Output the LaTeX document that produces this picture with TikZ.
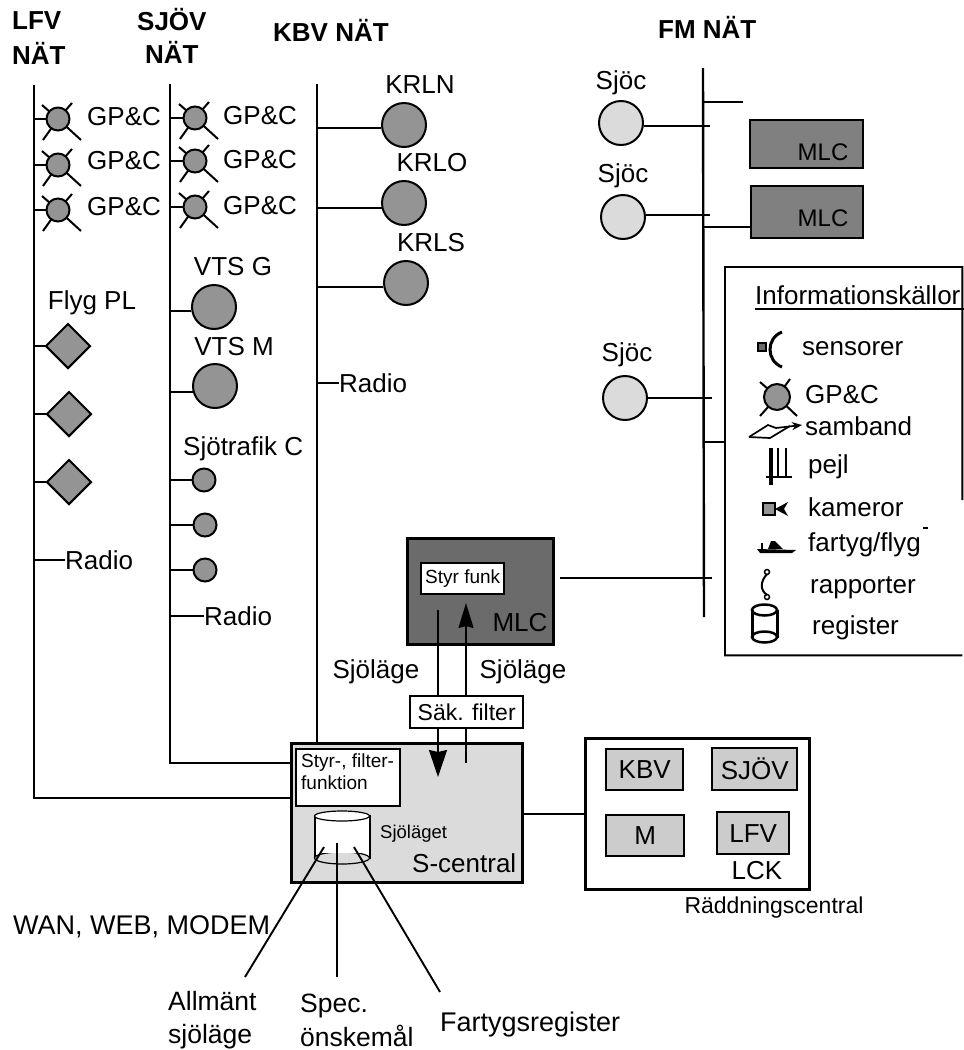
\documentclass[tikz,border=0pt]{standalone}
\usepackage{fontspec}
\setmainfont{Liberation Sans}
\usetikzlibrary{arrows.meta,calc,shapes.geometric}
\definecolor{mDot}{gray}{0.58}
\definecolor{mPale}{gray}{0.86}
\definecolor{mDark}{gray}{0.5}
\definecolor{mDarker}{gray}{0.42}
\definecolor{mSoft}{gray}{0.8}
\newcommand{\sz}[1]{\fontsize{#1}{#1}\selectfont}
\tikzset{
  wire/.style={line width=1.9pt},
  bus/.style={line width=2.4pt},
  lbl/.style={font=\sz{26},inner sep=0pt,anchor=west},
  clbl/.style={font=\sz{26},inner sep=0pt},
  head/.style={font=\sz{26}\bfseries,inner sep=0pt,anchor=west},
  gpdot/.style={circle,draw,line width=2pt,fill=mDot,minimum size=23pt,inner sep=0pt},
  bigdot/.style={circle,draw,line width=2pt,fill=mDot,minimum size=44pt,inner sep=0pt},
  smalldot/.style={circle,draw,line width=2pt,fill=mDot,minimum size=23pt,inner sep=0pt},
  paledot/.style={circle,draw,line width=2pt,fill=mPale,minimum size=44pt,inner sep=0pt},
  flyg/.style={diamond,draw,line width=2pt,fill=mDot,minimum size=45pt,inner sep=0pt},
  mlcbox/.style={draw,line width=2.4pt,fill=mDark,inner sep=0pt},
  whitebox/.style={draw,line width=2.4pt,fill=white,inner sep=0pt},
  softbox/.style={draw,line width=2.4pt,fill=mSoft,inner sep=0pt,font=\sz{26}},
  rayline/.style={line width=2pt},
}
% gp mark: name, position
\newcommand{\gpmark}[2]{
  \foreach \dx/\dy in {-16/-14,14/-16,-15/21,23/21}
    \draw[rayline] #2 -- ++(\dx,\dy);
  \node[gpdot] (#1) at #2 {};
}
\begin{document}
\begin{tikzpicture}[x=1pt,y=-1pt]
  \useasboundingbox (0,0) rectangle (964,1050);
  % Headers
  \node[head] (hlfv) at (12,21) {LFV};
  \node[head] (hlfvn) at (12,53) {NÄT};
  \node[head] (hsjov) at (137,20) {SJÖV};
  \node[head] (hsjovn) at (145,52) {NÄT};
  \node[head] (hkbv) at (273,30) {KBV NÄT};
  \node[head] (hfm) at (658,27) {FM NÄT};
  % Bus ends
  \coordinate (lfvtop) at (34,85);
  \coordinate (lfvbot) at (34,798);
  \coordinate (sjotop) at (170,84);
  \coordinate (sjobot) at (170,763);
  \coordinate (kbvtop) at (317,84);
  \coordinate (fmtop) at (703,68);
  \coordinate (fmbot) at (704,617);
  % Central boxes
  \node[draw,line width=3pt,fill=mSoft!70,minimum width=231pt,minimum height=139pt,inner sep=0pt,anchor=north west] (scentral) at (290,742) {};
  \node[draw,line width=3pt,fill=white,minimum width=224pt,minimum height=151pt,inner sep=0pt,anchor=north west] (lck) at (584,737) {};
  \node[draw,line width=3pt,fill=mDarker,minimum width=146pt,minimum height=106pt,inner sep=0pt,anchor=north west] (mlcbig) at (406,537) {};
  % LFV net
  \draw[bus] (lfvtop) -- (lfvbot) -- (lfvbot -| scentral.west);
  \gpmark{lfvgA}{(58,119)}
  \gpmark{lfvgB}{(58,165)}
  \gpmark{lfvgC}{(58,210)}
  \draw[wire] (lfvtop |- lfvgA) -- (lfvgA);
  \draw[wire] (lfvtop |- lfvgB) -- (lfvgB);
  \draw[wire] (lfvtop |- lfvgC) -- (lfvgC);
  \node[lbl] (lfvtA) at (87,117) {GP\&C};
  \node[lbl] (lfvtB) at (87,161) {GP\&C};
  \node[lbl] (lfvtC) at (87,207) {GP\&C};
  \node[clbl] (flygpl) at (92,303) {Flyg PL};
  \node[flyg] (flygA) at (68,346) {};
  \node[flyg] (flygB) at (69,414) {};
  \node[flyg] (flygC) at (69,482) {};
  \draw[wire] (lfvtop |- flygA) -- (flygA.west);
  \draw[wire] (lfvtop |- flygB) -- (flygB.west);
  \draw[wire] (lfvtop |- flygC) -- (flygC.west);
  \node[lbl] (radioL) at (65,560) {Radio};
  \draw[wire] (lfvtop |- radioL) -- (radioL.west);
  % SJOV net
  \draw[bus] (sjotop) -- (sjobot) -- (sjobot -| scentral.west);
  \gpmark{sjogA}{(195,118)}
  \gpmark{sjogB}{(195,161)}
  \gpmark{sjogC}{(195,207)}
  \draw[wire] (sjotop |- sjogA) -- (sjogA);
  \draw[wire] (sjotop |- sjogB) -- (sjogB);
  \draw[wire] (sjotop |- sjogC) -- (sjogC);
  \node[lbl] (sjotA) at (223,116) {GP\&C};
  \node[lbl] (sjotB) at (223,160) {GP\&C};
  \node[lbl] (sjotC) at (223,206) {GP\&C};
  \node[clbl] (vtsgt) at (233,267) {VTS G};
  \node[bigdot] (vtsg) at (214,307) {};
  \node[clbl] (vtsmt) at (234,347) {VTS M};
  \node[bigdot] (vtsm) at (215,386) {};
  \draw[wire] (sjotop |- vtsg.190) -- (vtsg.190);
  \draw[wire] (sjotop |- vtsm.195) -- (vtsm.195);
  \node[lbl] (sjotrafik) at (183,449) {Sjötrafik C};
  \node[smalldot] (trA) at (204,480) {};
  \node[smalldot] (trB) at (205,525) {};
  \node[smalldot] (trC) at (205,570) {};
  \draw[wire] (sjotop |- trA) -- (trA.west);
  \draw[wire] (sjotop |- trB) -- (trB.west);
  \draw[wire] (sjotop |- trC) -- (trC.west);
  \node[lbl] (radioS) at (204,616) {Radio};
  \draw[wire] (sjotop |- radioS) -- (radioS.west);
  % KBV net
  \draw[bus] (kbvtop) -- (kbvtop |- scentral.north);
  \node[clbl] (krlnt) at (420,85) {KRLN};
  \node[bigdot] (krln) at (404,125) {};
  \node[clbl] (krlot) at (432,163) {KRLO};
  \node[bigdot] (krlo) at (404,203) {};
  \node[clbl] (krlst) at (431,243) {KRLS};
  \node[bigdot] (krls) at (406,283) {};
  \draw[wire] (kbvtop |- krln.188) -- (krln.188);
  \draw[wire] (kbvtop |- krlo.192) -- (krlo.192);
  \draw[wire] (kbvtop |- krls.190) -- (krls.190);
  \node[lbl] (radioK) at (339,383) {Radio};
  \draw[wire] (kbvtop |- radioK) -- (radioK.west);
  % FM net
  \draw[bus] (fmtop) -- (fmbot);
  \coordinate (tickA) at (743,102);
  \draw[wire] (fmtop |- tickA) -- (tickA);
  \node[clbl] (sjocAt) at (621,83) {Sjöc};
  \node[paledot] (sjocA) at (621,123) {};
  \node[clbl] (sjocBt) at (623,176) {Sjöc};
  \node[paledot] (sjocB) at (623,217) {};
  \node[clbl] (sjocCt) at (627,355) {Sjöc};
  \node[paledot] (sjocC) at (625,398) {};
  \coordinate (tickB) at (710,126);
  \coordinate (tickC) at (710,215);
  \coordinate (tickD) at (712,398);
  \coordinate (tickE) at (712,578);
  \draw[wire] (sjocA.east |- tickB) -- (tickB);
  \draw[wire] (sjocB.east |- tickC) -- (tickC);
  \draw[wire] (sjocC.east) -- (tickD);
  \node[mlcbox,minimum width=113pt,minimum height=48pt,anchor=north west] (mlcA) at (749,119) {};
  \node[mlcbox,minimum width=112pt,minimum height=52pt,anchor=north west] (mlcB) at (750,185) {};
  \node[clbl,font=\sz{24}] (mlcAt) at (823,152) {MLC};
  \node[clbl,font=\sz{24}] (mlcBt) at (823,218) {MLC};
  \coordinate (tickF) at (703,227);
  \draw[wire] (tickF) -- (tickF -| mlcB.west);
  \draw[wire] ($(mlcbig.east |- tickE)+(5,0)$) -- (tickE);
  % Big MLC
  \node[whitebox,minimum width=83pt,minimum height=31pt,font=\sz{19},anchor=north west] (styrfunk) at (420,562) {Styr funk};
  \node[clbl] (mlct) at (520,623) {MLC};
  % Sjolage arrows
  \coordinate (dnS) at (438,610);
  \coordinate (dnE) at (438,777);
  \coordinate (upS) at (466,763);
  \coordinate (upE) at (466,603);
  \draw[wire,-{Stealth[length=27pt,width=18pt,inset=2pt]}] (dnS) -- (dnE);
  \draw[wire,-{Stealth[length=25pt,width=15pt,inset=2pt]}] (upS) -- (upE);
  \node[whitebox,minimum width=113pt,minimum height=32pt,font=\sz{23},anchor=north west] (filter) at (409,695) {Säk. filter};
  \node[clbl] (sjolA) at (376,672) {Sjöläge};
  \node[clbl] (sjolB) at (523,672) {Sjöläge};
  % S-central
  \node[whitebox,minimum width=104pt,minimum height=57pt,anchor=north west] (styrbox) at (295,748) {};
  \node[font=\sz{19},inner sep=0pt,anchor=north west,align=left] (styrt) at (301,754) {Styr-, filter-\\[3pt]funktion};
  \draw[line width=1.5pt,fill=white] (315,816) rectangle (370,858);
  \draw[line width=1.2pt,fill=mSoft!70] (342,858) ellipse [x radius=27.5, y radius=6];
  \draw[line width=1.2pt,fill=white] (342,816) ellipse [x radius=27.5, y radius=5];
  \fill[white] (317,822) rectangle (368,853);
  \node[lbl,font=\sz{18.5}] (sjolaget) at (380,834) {Sjöläget};
  \node[lbl] (scentt) at (412,863) {S-central};
  \coordinate (allmS) at (324,847);
  \coordinate (allmE) at (245,977);
  \coordinate (specS) at (337,843);
  \coordinate (specE) at (337,977);
  \coordinate (fartS) at (354,847);
  \coordinate (fartE) at (440,992);
  \draw[wire] (allmS) -- (allmE);
  \draw[wire] (specS) -- (specE);
  \draw[wire] (fartS) -- (fartE);
  % LCK
  \draw[wire] (scentral.east |- 0,814) -- (lck.west |- 0,814);
  \node[softbox,minimum width=77pt,minimum height=41pt,anchor=north west] (bkbv) at (605,748) {KBV};
  \node[softbox,minimum width=85pt,minimum height=42pt,anchor=north west] (bsjov) at (711,747) {SJÖV};
  \node[softbox,minimum width=78pt,minimum height=41pt,anchor=north west] (bm) at (605,814) {M};
  \node[softbox,minimum width=72pt,minimum height=42pt,anchor=north west] (blfv) at (716,811) {LFV};
  \node[clbl] (lckt) at (757,871) {LCK};
  \node[clbl,font=\sz{23}] (raddt) at (774,908) {Räddningscentral};
  % Bottom labels
  \node[lbl,font=\sz{27}] (want) at (13,927) {WAN, WEB, MODEM};
  \node[lbl,align=left,font=\sz{26.5}] (allmt) at (168,1020) {Allmänt\\[6pt]sjöläge};
  \node[lbl,align=left,font=\sz{26.5}] (spect) at (300,1020) {Spec.\\[6pt]önskemål};
  \node[lbl,font=\sz{27}] (fartt) at (440,1025) {Fartygsregister};
  % Legend
  \coordinate (tickG) at (704,442);
  \node[fill=white,minimum width=237pt,minimum height=388pt,inner sep=0pt,anchor=north west] (legend) at (725,267) {};
  \draw[wire] (tickG) -- (tickG -| legend.west);
  \draw[wire] ($(legend.north east)!0.6!(legend.south east)$) -- (legend.north east) -- (legend.north west) -- (legend.south west) -- (legend.south east);
  \node[lbl] (infot) at (755,295) {Informationskällor};
  \draw[wire] (755,309) -- (964,309);
  \node[lbl] (lsens) at (802,349) {sensorer};
  \node[lbl] (lgp) at (805,395) {GP\&C};
  \node[lbl] (lsamb) at (805,426) {samband};
  \node[lbl] (lpejl) at (808,467) {pejl};
  \node[lbl] (lkam) at (808,507) {kameror};
  \node[lbl] (lfart) at (808,545) {fartyg/flyg};
  \node[lbl] (lrapp) at (810,588) {rapporter};
  \node[lbl] (lreg) at (812,628) {register};
  \draw[wire] (923,528) -- (928,528);
  % Legend icons
  \draw[line width=1.5pt,fill=mDarker] (758,343) rectangle (766,351);
  \draw[line width=3pt] (782,332) .. controls (766,338) and (766,361) .. (782,367);
  \foreach \dx/\dy in {-17/-15,13/-18,-17/19,20/19}
    \draw[rayline] (777,397) -- ++(\dx,\dy);
  \node[gpdot,minimum size=26pt] (legp) at (777,397) {};
  \draw[line width=1.7pt,-{Stealth[length=10pt,width=8pt,open]}] (749,437) -- (768,425) -- (776,428) -- (802,425);
  \draw[line width=1.7pt] (749,437) -- (770,438) -- (790,426);
  \draw[line width=4pt] (771,448) -- (771,485);
  \draw[line width=2.5pt] (778,448) -- (778,477) (786,448) -- (786,477) (766,477) -- (792,477);
  \fill[mDot] (763,503) rectangle (775,515);
  \draw[line width=1.5pt] (763,503) rectangle (775,515);
  \fill (775,509) -- (788,502) -- (784,509) -- (788,516) -- cycle;
  \fill (757,549) -- (796,550) -- (792,553) -- (760,553) -- cycle;
  \fill (768,549) -- (771,541) -- (775,541) -- (783,549) -- cycle;
  \draw[line width=1.5pt] (762,549) -- (762,543);
  \draw[line width=2pt] (767,574) .. controls (760,582) and (760,590) .. (767,595);
  \draw[line width=1.5pt] (767,572) circle [radius=2.5];
  \draw[line width=1.5pt] (767,597) circle [radius=2.5];
  \draw[line width=3pt] (752,610) -- (752,638) (777,610) -- (777,638);
  \draw[line width=2.5pt] (764.5,610) ellipse [x radius=12.5, y radius=5.5];
  \draw[line width=2.5pt] (764.5,637) ellipse [x radius=12.5, y radius=5.5];
\end{tikzpicture}
\end{document}
